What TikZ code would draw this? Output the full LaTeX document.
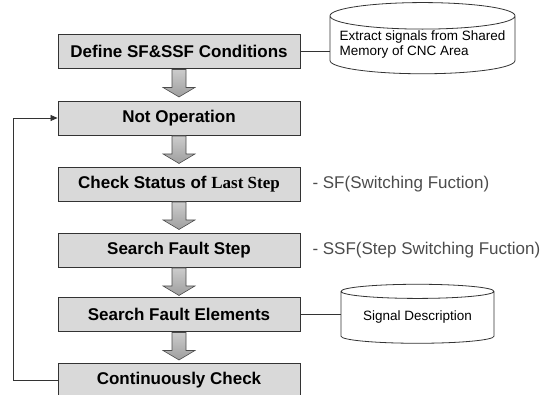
\documentclass[tikz,border=0pt]{standalone}
\usepackage{fontspec}
\setmainfont{Liberation Sans}
\newfontfamily\serifbf{Liberation Serif}
\usetikzlibrary{shapes.geometric,arrows.meta,calc}

\tikzset{
  stepbox/.style={draw=black!80, line width=0.9pt, fill=black!15,
    minimum width=242pt, minimum height=34pt, inner sep=0pt,
    font=\bfseries\fontsize{17}{19}\selectfont},
  store/.style={cylinder, shape border rotate=90, draw=black!80, line width=0.8pt,
    inner sep=0pt, font=\fontsize{13.5}{15.5}\selectfont},
  flowarrow/.style={draw=black!70, line width=0.6pt, top color=black!20, bottom color=black!38,
    line join=miter},
  note/.style={anchor=west, text=black!70, font=\fontsize{17}{19}\selectfont},
  link/.style={draw=black!80, line width=0.7pt}
}

\begin{document}
\begin{tikzpicture}[x=1pt, y=-1pt]
\useasboundingbox (0,0) rectangle (551,394);

\node[stepbox] (define) at (179,51.5) {Define SF\&SSF Conditions};
\node[stepbox] (notop) at (179,118) {Not Operation};
\node[stepbox] (status) at (179,184) {Check Status of {\serifbf\bfseries Last Step}};
\node[stepbox] (faultstep) at (179,250) {Search Fault Step};
\node[stepbox] (faultelem) at (179,314.5) {Search Fault Elements};
\node[stepbox] (check) at (179,380) {Continuously Check};

% block arrows between the steps
\foreach \a/\b in {define/notop, notop/status, status/faultstep, faultstep/faultelem, faultelem/check}{
  \coordinate (\a-\b) at (\a.south);
  \draw[flowarrow] ($(\a-\b)+(-7,0.5)$) -- ++(0,18) -- ++(-9,0) -- ++(16,9.5)
    -- ++(16,-9.5) -- ++(-9,0) -- ++(0,-18) -- cycle;
}

\node[store, minimum width=185pt, minimum height=64pt, aspect=0.16] (shared) at (422.5,45)
  {\raisebox{-8pt}{\begin{tabular}{@{}l@{}}Extract signals from Shared\\ Memory of CNC Area\end{tabular}}};
\node[store, minimum width=153pt, minimum height=59pt, aspect=0.13] (sigdesc) at (417.5,317.5)
  {\raisebox{-5pt}{Signal Description}};

\node[note] (sf) at (309,184) {- SF(Switching Fuction)};
\node[note] (ssf) at (309,250) {- SSF(Step Switching Fuction)};

\draw[link] (define.east) -- (define.east -| shared.west);
\draw[link] (faultelem.east) -- (faultelem.east -| sigdesc.west);
\draw[link, -{Triangle[length=7pt, width=6pt]}] (check.west) -- ++(-44,0) |- (notop.west);
\end{tikzpicture}
\end{document}
